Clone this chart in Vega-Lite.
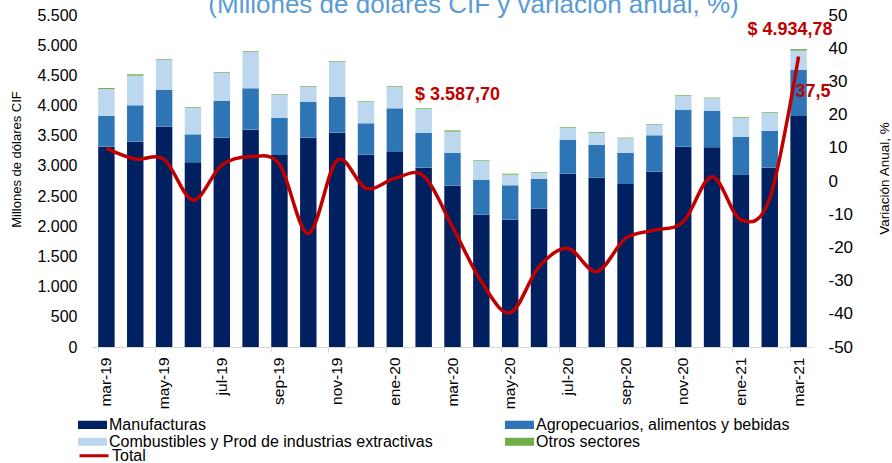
{
  "$schema": "https://vega.github.io/schema/vega-lite/v6.json",
  "width": 721,
  "height": 332,
  "autosize": {"type": "none"},
  "padding": {"left": 92, "top": 15, "right": 79, "bottom": 116},
  "background": "white",
  "config": {
    "locale": {"number": {"decimal": ",", "thousands": ".", "grouping": [3], "currency": ["$", ""], "minus": "-"}},
    "font": "Liberation Sans",
    "view": {"stroke": null},
    "axis": {"labelFont": "Liberation Sans", "titleFont": "Liberation Sans", "labelColor": "#000000", "titleColor": "#000000", "titleFontWeight": "normal", "grid": false, "labelOverlap": false}
  },
  "title": {
    "text": "(Millones de dólares CIF y variación anual, %)",
    "fontSize": 26,
    "fontWeight": "normal",
    "font": "Liberation Sans",
    "color": "#5B9BD5",
    "anchor": "middle",
    "frame": "group",
    "offset": 0,
    "dx": 21,
    "dy": 12
  },
  "datasets": {
    "imp": [
      {"mes": "mar-19", "m": 3319, "a": 508, "c": 447, "o": 17, "var": 9.8},
      {"mes": "abr-19", "m": 3402, "a": 602, "c": 491, "o": 23, "var": 6.6},
      {"mes": "may-19", "m": 3650, "a": 613, "c": 497, "o": 11, "var": 6.5},
      {"mes": "jun-19", "m": 3060, "a": 463, "c": 442, "o": 11, "var": -5.7},
      {"mes": "jul-19", "m": 3468, "a": 613, "c": 464, "o": 11, "var": 4.8},
      {"mes": "ago-19", "m": 3601, "a": 685, "c": 607, "o": 11, "var": 7.3},
      {"mes": "sep-19", "m": 3181, "a": 618, "c": 376, "o": 11, "var": 5.0},
      {"mes": "oct-19", "m": 3468, "a": 591, "c": 254, "o": 11, "var": -15.8},
      {"mes": "nov-19", "m": 3551, "a": 591, "c": 585, "o": 11, "var": 6.3},
      {"mes": "dic-19", "m": 3186, "a": 520, "c": 353, "o": 11, "var": -2.2},
      {"mes": "ene-20", "m": 3231, "a": 723, "c": 353, "o": 12, "var": 0.8},
      {"mes": "feb-20", "m": 2971, "a": 574, "c": 403, "o": 12, "var": 1.5},
      {"mes": "mar-20", "m": 2673, "a": 541, "c": 353, "o": 20.7, "var": -13.8},
      {"mes": "abr-20", "m": 2192, "a": 580, "c": 310, "o": 11, "var": -30.3},
      {"mes": "may-20", "m": 2109, "a": 570, "c": 176, "o": 16, "var": -39.7},
      {"mes": "jun-20", "m": 2291, "a": 492, "c": 105, "o": 11, "var": -25.8},
      {"mes": "jul-20", "m": 2871, "a": 564, "c": 199, "o": 11, "var": -20.3},
      {"mes": "ago-20", "m": 2805, "a": 547, "c": 199, "o": 11, "var": -27.3},
      {"mes": "sep-20", "m": 2700, "a": 519, "c": 238, "o": 11, "var": -17.3},
      {"mes": "oct-20", "m": 2904, "a": 603, "c": 176, "o": 11, "var": -14.8},
      {"mes": "nov-20", "m": 3319, "a": 613, "c": 232, "o": 11, "var": -12.3},
      {"mes": "dic-20", "m": 3308, "a": 602, "c": 210, "o": 11, "var": 1.3},
      {"mes": "ene-21", "m": 2850, "a": 629, "c": 320, "o": 12, "var": -11.7},
      {"mes": "feb-21", "m": 2971, "a": 608, "c": 303, "o": 11, "var": -5.2},
      {"mes": "mar-21", "m": 3827, "a": 762, "c": 320, "o": 25.78, "var": 37.5}
    ],
    "series": [
      {"key": "m", "serie": "Manufacturas", "idx": 1},
      {"key": "a", "serie": "Agropecuarios, alimentos y bebidas", "idx": 2},
      {"key": "c", "serie": "Combustibles y Prod de industrias extractivas", "idx": 3},
      {"key": "o", "serie": "Otros sectores", "idx": 4}
    ],
    "etiquetas": [
      {"mes": "mar-20", "total": 3587.70, "etiqueta": "$ 3.587,70"},
      {"mes": "mar-21", "total": 4934.78, "etiqueta": "$ 4.934,78"}
    ]
  },
  "encoding": {
    "x": {
      "field": "mes",
      "type": "ordinal",
      "sort": null,
      "scale": {
        "domain": ["mar-19","abr-19","may-19","jun-19","jul-19","ago-19","sep-19","oct-19","nov-19","dic-19","ene-20","feb-20","mar-20","abr-20","may-20","jun-20","jul-20","ago-20","sep-20","oct-20","nov-20","dic-20","ene-21","feb-21","mar-21"],
        "paddingInner": 0.43,
        "paddingOuter": 0.215
      },
      "axis": {
        "title": null,
        "values": ["mar-19","may-19","jul-19","sep-19","nov-19","ene-20","mar-20","may-20","jul-20","sep-20","nov-20","ene-21","mar-21"],
        "bandPosition": 0,
        "labelOverlap": false,
        "labelAngle": -90,
        "labelAlign": "right",
        "labelBaseline": "middle",
        "labelFontSize": 15.5,
        "labelPadding": 5,
        "tickSize": 5,
        "tickColor": "#D9D9D9",
        "domainColor": "#D9D9D9",
        "domainWidth": 1
      }
    }
  },
  "layer": [
    {
      "encoding": {
        "y": {
          "field": "valor",
          "type": "quantitative",
          "scale": {"domain": [0, 5500], "nice": false},
          "axis": {
            "title": "Millones de dólares CIF",
            "format": ",.0f",
            "values": [0,500,1000,1500,2000,2500,3000,3500,4000,4500,5000,5500],
            "labelOverlap": false,
            "labelFlush": false,
            "domain": false,
            "ticks": false,
            "labelFontSize": 16,
            "labelPadding": 15,
            "titleFontSize": 13,
            "titleX": -76,
            "titleY": 144,
            "titleAngle": -90,
            "titleAlign": "center",
            "titleBaseline": "middle"
          }
        }
      },
      "layer": [
        {
          "data": {"name": "imp"},
          "transform": [
            {"fold": ["m", "a", "c", "o"], "as": ["key", "valor"]},
            {"lookup": "key", "from": {"data": {"name": "series"}, "key": "key", "fields": ["serie", "idx"]}}
          ],
          "mark": {"type": "bar"},
          "encoding": {
            "color": {
              "field": "serie",
              "type": "nominal",
              "scale": {
                "domain": ["Manufacturas", "Agropecuarios, alimentos y bebidas", "Combustibles y Prod de industrias extractivas", "Otros sectores"],
                "range": ["#002060", "#2E75B6", "#BDD7EE", "#70AD47"]
              },
              "legend": {
                "orient": "none",
                "legendX": -14,
                "legendY": 402,
                "columns": 2,
                "direction": "horizontal",
                "title": null,
                "symbolType": "M-1,-0.28H1V0.28H-1Z",
                "symbolSize": 841,
                "symbolStrokeWidth": 0,
                "labelFontSize": 16,
                "labelFont": "Liberation Sans",
                "labelColor": "#000000",
                "labelOffset": 2,
                "labelLimit": 400,
                "columnPadding": 72,
                "rowPadding": 0,
                "clipHeight": 15.5,
                "padding": 0
              }
            },
            "order": {"field": "idx", "type": "quantitative"}
          }
        },
        {
          "data": {"name": "etiquetas"},
          "transform": [{"filter": "datum.mes == 'mar-20'"}],
          "mark": {"type": "text", "font": "Liberation Sans", "fontWeight": "bold", "fontSize": 18, "color": "#C00000", "align": "center", "baseline": "alphabetic", "dx": 5, "dy": -30},
          "encoding": {
            "y": {"field": "total", "type": "quantitative"},
            "text": {"field": "etiqueta"}
          }
        },
        {
          "data": {"name": "etiquetas"},
          "transform": [{"filter": "datum.mes == 'mar-21'"}],
          "mark": {"type": "text", "font": "Liberation Sans", "fontWeight": "bold", "fontSize": 18, "color": "#C00000", "align": "center", "baseline": "alphabetic", "dx": -8.6, "dy": -14},
          "encoding": {
            "y": {"field": "total", "type": "quantitative"},
            "text": {"field": "etiqueta"}
          }
        }
      ]
    },
    {
      "data": {"name": "imp"},
      "encoding": {
        "y": {
          "field": "var",
          "type": "quantitative",
          "scale": {"domain": [-50, 50], "nice": false},
          "axis": {
            "orient": "right",
            "title": "Variación Anual, %",
            "values": [-50,-40,-30,-20,-10,0,10,20,30,40,50],
            "labelOverlap": false,
            "labelFlush": false,
            "domain": false,
            "ticks": false,
            "labelFontSize": 17,
            "labelPadding": 15,
            "titleFontSize": 13.5,
            "titleX": 71,
            "titleY": 163,
            "titleAngle": -90,
            "titleAlign": "center",
            "titleBaseline": "middle"
          }
        }
      },
      "layer": [
        {
          "mark": {"type": "line", "interpolate": "cardinal", "strokeWidth": 3.5},
          "encoding": {
            "stroke": {
              "datum": "Total",
              "type": "nominal",
              "scale": {"domain": ["Total"], "range": ["#C00000"]},
              "legend": {
                "orient": "none",
                "legendX": -14,
                "legendY": 433,
                "title": null,
                "symbolType": "stroke",
                "symbolSize": 841,
                "symbolStrokeWidth": 3,
                "labelFontSize": 16,
                "labelFont": "Liberation Sans",
                "labelColor": "#000000",
                "labelOffset": 2,
                "clipHeight": 15.5,
                "padding": 0
              }
            }
          }
        },
        {
          "transform": [{"filter": "datum.mes == 'mar-21'"}],
          "mark": {"type": "text", "font": "Liberation Sans", "fontWeight": "bold", "fontSize": 18, "color": "#C00000", "align": "center", "baseline": "alphabetic", "dx": 14.4, "dy": 40},
          "encoding": {
            "text": {"field": "var", "type": "quantitative", "format": ".1f"}
          }
        }
      ]
    }
  ],
  "resolve": {"scale": {"y": "independent"}, "axis": {"y": "independent"}}
}
